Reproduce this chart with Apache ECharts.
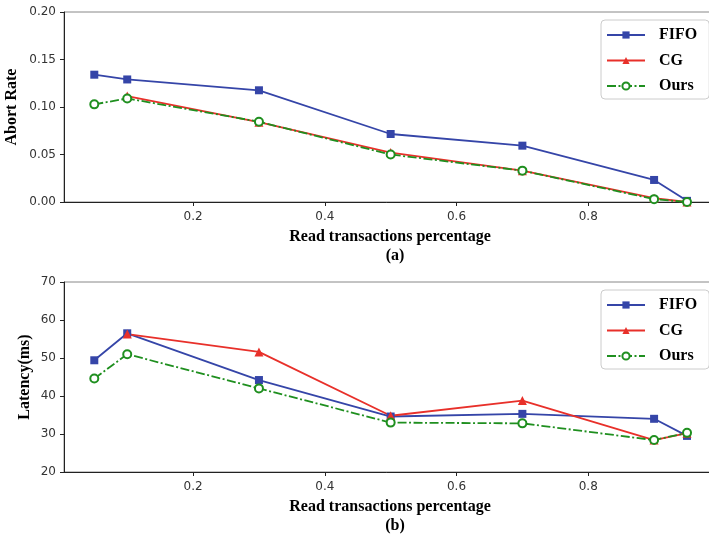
<!DOCTYPE html>
<html>
<head>
<meta charset="utf-8">
<script src="https://cdn.jsdelivr.net/npm/echarts@6/dist/echarts.min.js"></script>
<style>
  html, body { margin: 0; padding: 0; background: #fff; }
  #chart { width: 709px; height: 536px; }
</style>
</head>
<body>
<div id="chart"></div>
<script>
// read-transaction ratio on x
const readPct = [0.05, 0.1, 0.3, 0.5, 0.7, 0.9, 0.95];
const xTicks = [0.2, 0.4, 0.6, 0.8];

// (a) abort rate
const abortFifo = [0.134, 0.129, 0.1176, 0.0716, 0.0593, 0.0232, 0.0012];
const abortCg = [null, 0.1115, 0.084, 0.052, 0.033, 0.004, 0.0];
const abortOurs = [0.1028, 0.109, 0.0845, 0.050, 0.033, 0.003, 0.0];

// (b) latency
const latFifo = [49.4, 56.5, 44.2, 34.6, 35.3, 34.0, 29.5];
const latCg = [null, 56.3, 51.6, 34.8, 38.8, 28.4, 30.2];
const latOurs = [44.6, 51.0, 42.0, 33.0, 32.8, 28.4, 30.3];

const seriesNames = ["FIFO", "CG", "Ours"];
const colors = { FIFO: "#3545a8", CG: "#e8302a", Ours: "#1f8f1f" };

const pairs = (ys) => readPct.map((x, i) => [x, ys[i]]).filter((p) => p[1] != null);

const serif = "Liberation Serif";
const sans = "DejaVu Sans";

const makeX = (gi) => ({
  type: "value",
  gridIndex: gi,
  min: 0.004,
  max: 0.994,
  name: "Read transactions percentage",
  nameLocation: "middle",
  nameGap: 27,
  nameTextStyle: { fontFamily: serif, fontWeight: "bold", fontSize: 16, color: "#000" },
  splitLine: { show: false },
  axisLine: { onZero: false, lineStyle: { color: "#222", width: 1 } },
  axisTick: { show: true, inside: false, length: 4, customValues: xTicks, lineStyle: { color: "#222" } },
  axisLabel: {
    customValues: xTicks,
    margin: 9,
    fontFamily: sans,
    fontSize: 12,
    color: "#333",
    formatter: (v) => v.toFixed(1),
  },
});

const makeY = (gi, name, min, max, step, digits, gap) => ({
  type: "value",
  gridIndex: gi,
  min: min,
  max: max,
  interval: step,
  name: name,
  nameLocation: "middle",
  nameGap: gap,
  nameMoveOverlap: false,
  nameTextStyle: { fontFamily: serif, fontWeight: "bold", fontSize: 16, color: "#000" },
  splitLine: { show: false },
  axisLine: { show: true, lineStyle: { color: "#222", width: 1 } },
  axisTick: { show: true, length: 4, lineStyle: { color: "#222" } },
  axisLabel: {
    margin: 8,
    fontFamily: sans,
    fontSize: 12,
    color: "#333",
    formatter: (v) => v.toFixed(digits),
  },
});

const makeSeries = (gi, name, ys) => {
  const s = {
    name: name,
    type: "line",
    xAxisIndex: gi,
    yAxisIndex: gi,
    data: pairs(ys),
    color: colors[name],
    lineStyle: { width: 1.8, color: colors[name] },
    itemStyle: { color: colors[name] },
    symbolSize: 8,
    z: 3,
  };
  if (name === "FIFO") {
    s.symbol = "rect";
  } else if (name === "CG") {
    s.symbol = "triangle";
    s.symbolSize = 9;
  } else {
    s.symbol = "emptyCircle";
    s.lineStyle.type = [9, 2.5, 2, 2.5];
    s.itemStyle.borderWidth = 1.5;
    s.z = 4;
  }
  return s;
};

const makeLegend = (top) => ({
  orient: "vertical",
  left: 601,
  top: top,
  data: seriesNames,
  itemWidth: 38,
  itemHeight: 9,
  itemGap: 9.5,
  padding: [7, 12, 5, 5],
  backgroundColor: "#fff",
  borderColor: "#ccc",
  borderWidth: 1,
  borderRadius: 4,
  textStyle: {
    fontFamily: serif,
    fontWeight: "bold",
    fontSize: 16,
    lineHeight: 16,
    color: "#000",
    padding: [0, 0, 0, 9],
  },
});

const chart = echarts.init(document.getElementById("chart"));
chart.setOption({
  animation: false,
  backgroundColor: "#fff",
  title: [
    { text: "(a)", left: 390, top: 243, textAlign: "center",
      textStyle: { fontFamily: serif, fontWeight: "bold", fontSize: 16, color: "#000" } },
    { text: "(b)", left: 390, top: 513, textAlign: "center",
      textStyle: { fontFamily: serif, fontWeight: "bold", fontSize: 16, color: "#000" } },
  ],
  legend: [makeLegend(20), makeLegend(290)],
  grid: [
    { left: 64, right: -7, top: 12, bottom: 334, outerBoundsMode: "none", containLabel: false,
      show: true, borderColor: "#888", borderWidth: 1 },
    { left: 64, right: -7, top: 282, bottom: 64, outerBoundsMode: "none", containLabel: false,
      show: true, borderColor: "#888", borderWidth: 1 },
  ],
  xAxis: [makeX(0), makeX(1)],
  yAxis: [
    makeY(0, "Abort Rate", 0, 0.2, 0.05, 2, 44),
    makeY(1, "Latency(ms)", 20, 70, 10, 0, 31),
  ],
  series: [
    makeSeries(0, "FIFO", abortFifo),
    makeSeries(0, "CG", abortCg),
    makeSeries(0, "Ours", abortOurs),
    makeSeries(1, "FIFO", latFifo),
    makeSeries(1, "CG", latCg),
    makeSeries(1, "Ours", latOurs),
  ],
});
</script>
</body>
</html>
